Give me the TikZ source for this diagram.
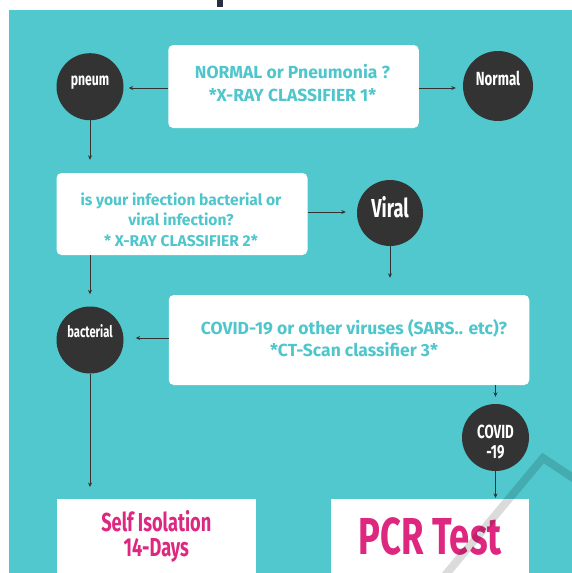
\documentclass[tikz,border=0pt]{standalone}
\usepackage{fontspec}
\setmainfont{Fira Sans}
\newfontfamily\condfont[FakeStretch=0.7]{Fira Sans}
\usetikzlibrary{arrows.meta}
\definecolor{teal1}{RGB}{80,200,205}
\definecolor{tealtxt}{RGB}{79,198,204}
\definecolor{dark}{RGB}{51,51,51}
\definecolor{pink1}{RGB}{222,40,128}
\definecolor{glyph}{RGB}{43,45,66}
\begin{document}
\begin{tikzpicture}[x=1pt,y=-1pt,
  box/.style={fill=white, rounded corners=5pt, inner sep=0pt},
  boxtxt/.style={align=center, text=tealtxt, inner sep=0pt},
  dot/.style={circle, fill=dark, inner sep=0pt},
  dottxt/.style={align=center, text=white, inner sep=0pt},
  arr/.style={draw=dark, line width=0.8pt, -{Stealth[length=4.5pt,width=4pt]}},
  endbox/.style={fill=white, inner sep=0pt, align=center, text=pink1},
  wmstroke/.style={draw=black, opacity=0.14, line width=8pt}
]
\useasboundingbox (0,0) rectangle (572,573);
\fill[white] (0,0) rectangle (572,573);
\fill[teal1] (8.5,10) rectangle (572,573);
\fill[glyph] (216.7,0) rectangle (222.7,7);

% nodes
\node[box, minimum width=250.5pt, minimum height=83pt,
  label={[boxtxt, yshift=3.5pt, xshift=-1pt, font=\bfseries\fontsize{17.5}{23}\selectfont]center:{NORMAL or Pneumonia ?\\*X-RAY CLASSIFIER 1*}}]
  (b1) at (293.5,86.5) {};
\node[dot, minimum size=67pt,
  label={[dottxt, yshift=4pt, font=\condfont\bfseries\fontsize{17.5}{20}\selectfont]center:pneum}]
  (pneum) at (90,86.7) {};
\node[dot, minimum size=70pt,
  label={[dottxt, yshift=8pt, font=\condfont\bfseries\fontsize{19}{20}\selectfont]center:Normal}]
  (normal) at (498,86) {};

\node[box, minimum width=251pt, minimum height=82pt,
  label={[boxtxt, yshift=-5.5pt, xshift=-1pt, font=\bfseries\fontsize{15.6}{20.5}\selectfont]center:{is your infection bacterial or\\viral infection?\\* X-RAY CLASSIFIER 2*}}]
  (b2) at (182,214) {};
\node[dot, minimum size=66pt,
  label={[dottxt, yshift=5.5pt, font=\condfont\bfseries\fontsize{26}{26}\selectfont]center:Viral}]
  (viral) at (390,213) {};

\node[box, minimum width=360.5pt, minimum height=90pt,
  label={[boxtxt, yshift=2pt, xshift=5pt, font=\bfseries\fontsize{17.5}{21.5}\selectfont]center:{COVID-19 or other viruses (SARS.. etc)?\\*CT-Scan classifier 3*}}]
  (b3) at (349,340) {};
\node[dot, minimum size=67pt,
  label={[dottxt, yshift=8.5pt, font=\condfont\bfseries\fontsize{16}{20}\selectfont]center:bacterial}]
  (bact) at (90,340) {};
\node[dot, minimum size=67pt,
  label={[dottxt, yshift=-5pt, font=\condfont\bfseries\fontsize{19}{20}\selectfont]center:{COVID\\-19}}]
  (covid) at (495.5,437.5) {};

\node[endbox, minimum width=199pt, minimum height=74pt, anchor=north west,
  font=\condfont\bfseries\fontsize{26}{25}\selectfont] (self) at (56.6,499) {Self Isolation\\14-Days};
\node[endbox, minimum width=198.3pt, minimum height=74pt, anchor=north west,
  font=\condfont\bfseries\fontsize{52}{52}\selectfont] (pcr) at (330.7,499) {PCR Test};

% connectors
\draw[arr, shorten >=5pt] (b1.west |- 0,88) -- (pneum.east |- 0,88);
\draw[arr, shorten >=7pt] (b1.east |- 0,88) -- (normal.west |- 0,88);
\draw[arr, shorten >=13pt] (pneum.south) -- (b2.north -| pneum.south);
\draw[arr, shorten >=11pt] (b2.east |- 0,212) -- (viral.west |- 0,212);
\draw[arr, shorten >=17pt] (viral.south) -- (b3.north -| viral.south);
\draw[arr, shorten >=12pt] (b2.south -| bact.north) -- (bact.north);
\draw[arr, shorten >=12pt] (b3.west |- 0,338) -- (bact.east |- 0,338);
\draw[arr, shorten >=12pt] (bact.south) -- (self.north -| bact.south);
\draw[arr, shorten >=7pt] (b3.south -| covid.north) -- (covid.north);
\draw[arr, shorten >=1pt] (covid.south) -- (pcr.north -| covid.south);

% watermark stroke
\draw[wmstroke] (441.2,580) -- (543,458) -- (580,482.5);
\end{tikzpicture}
\end{document}
